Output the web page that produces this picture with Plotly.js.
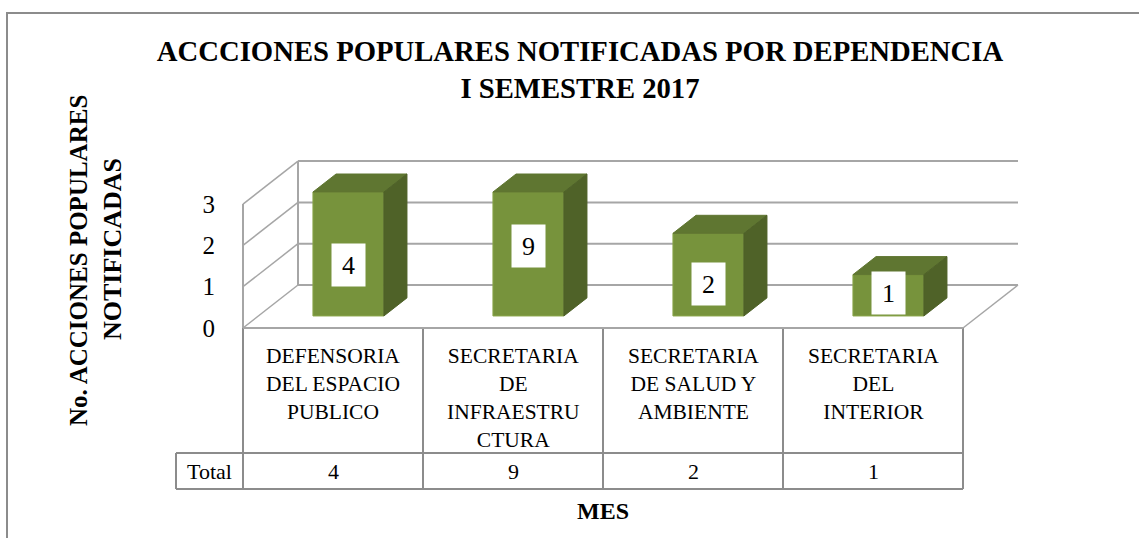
<!DOCTYPE html>
<html>
<head>
<meta charset="utf-8">
<script src="https://cdn.plot.ly/plotly-3.0.1.min.js"></script>
<style>
  html, body { margin: 0; padding: 0; background: #fff; }
  #graphDiv { width: 1139px; height: 538px; }
</style>
</head>
<body>
<div id="graphDiv"></div>
<script>
// data
var categories = ['DEFENSORIA<br>DEL ESPACIO<br>PUBLICO', 'SECRETARIA<br>DE<br>INFRAESTRU<br>CTURA',
                  'SECRETARIA<br>DE SALUD Y<br>AMBIENTE', 'SECRETARIA<br>DEL<br>INTERIOR'];
var totals = [4, 9, 2, 1];
var yTicks = [0, 1, 2, 3];
var rowName = 'Total';

// where the white value boxes sit on each bar (value units above bar base)
var labelAt = [1.23, 1.69, 0.77, 0.55];

var W = 1139, H = 538;
var CAT_PX = 180, X0_PX = 333;      // category spacing, centre of first category
var UNIT_PX = 41.3, Y0_PX = 328;    // one value unit, front floor line
var DX = 55 / CAT_PX, DY = 43 / UNIT_PX;   // depth shift of the 3d box
var yMax = yTicks[yTicks.length - 1];
var dF = 0.28, dB = 0.70, barW = 0.394;

var grid = '#a6a6a6', border = '#8c8c8c';
var serif = 'Liberation Serif';

function px2x(p) { return (p - X0_PX) / CAT_PX; }
function py2paper(p) { return 1 - p / H; }

function txt(size) { return { family: serif, size: size, color: '#000' }; }

function drawGraph() {
  var n = categories.length;
  var idx = categories.map(function (c, i) { return i; });
  var shown = totals.map(function (v) { return Math.min(v, yMax); });

  // front faces
  var front = {
    type: 'bar',
    x: idx.map(function (i) { return i + dF * DX; }),
    y: shown,
    base: dF * DY,
    width: barW,
    marker: { color: '#77933c', line: { color: '#8aa64a', width: 1 } },
    hoverinfo: 'skip'
  };

  // top and side faces
  var tx = [], ty = [], sx = [], sy = [];
  var ddx = (dB - dF) * DX, ddy = (dB - dF) * DY;
  for (var i = 0; i < n; i++) {
    var xl = i + dF * DX - barW / 2, xr = xl + barW;
    var yb = dF * DY, yt = yb + shown[i];
    tx.push(xl, xr, xr + ddx, xl + ddx, xl, null);
    ty.push(yt, yt, yt + ddy, yt + ddy, yt, null);
    sx.push(xr, xr, xr + ddx, xr + ddx, xr, null);
    sy.push(yb, yt, yt + ddy, yb + ddy, yb, null);
  }
  var top = { type: 'scatter', x: tx, y: ty, mode: 'lines', fill: 'toself',
    fillcolor: '#5f7631', line: { color: '#5f7631', width: 1 }, hoverinfo: 'skip' };
  var side = { type: 'scatter', x: sx, y: sy, mode: 'lines', fill: 'toself',
    fillcolor: '#4f6228', line: { color: '#4f6228', width: 1 }, hoverinfo: 'skip' };

  var shapes = [];
  function seg(x0, y0, x1, y1, col, wd, xr, yr) {
    shapes.push({ type: 'line', layer: 'below', xref: xr || 'x', yref: yr || 'y',
      x0: x0, y0: y0, x1: x1, y1: y1, line: { color: col, width: wd } });
  }
  var L = -0.5, R = n - 0.5;
  // back wall gridlines and left wall
  yTicks.forEach(function (k) {
    seg(L + DX, k + DY, R + DX, k + DY, grid, 2);
    seg(L, k, L + DX, k + DY, grid, 1.5);
  });
  seg(L, 0, L, yMax, grid, 2);
  seg(L + DX, DY, L + DX, yMax + DY, grid, 2);
  // floor
  seg(L, 0, R, 0, grid, 2);
  seg(R, 0, R + DX, DY, grid, 1.5);

  // data table under the floor
  var rowTop = py2paper(453), rowBot = py2paper(489), hdrTop = py2paper(Y0_PX);
  var totLeft = px2x(176);
  for (var j = 0; j <= n; j++) {
    seg(j - 0.5, hdrTop, j - 0.5, rowBot, border, 2, 'x', 'paper');
  }
  seg(totLeft, rowTop, R, rowTop, border, 2, 'x', 'paper');
  seg(totLeft, rowBot, R, rowBot, border, 2, 'x', 'paper');
  seg(totLeft, rowTop, totLeft, rowBot, border, 2, 'x', 'paper');

  // chart frame
  shapes.push({ type: 'rect', layer: 'below', xref: 'paper', yref: 'paper',
    x0: 7 / W, x1: 1.05, y0: -0.05, y1: py2paper(13), line: { color: border, width: 2 } });

  var ann = [];
  function note(o) {
    o.showarrow = false;
    o.xanchor = o.xanchor || 'center';
    o.yanchor = o.yanchor || 'middle';
    ann.push(o);
  }
  categories.forEach(function (c, i) {
    note({ x: i, y: py2paper(342), xref: 'x', yref: 'paper', yanchor: 'top',
      text: c, font: txt(21.5) });
    note({ x: i, y: py2paper(471), xref: 'x', yref: 'paper',
      text: String(totals[i]), font: txt(22) });
    note({ x: i + dF * DX, y: dF * DY + labelAt[i], xref: 'x', yref: 'y',
      text: String(totals[i]), bgcolor: '#fff', width: 31, height: 40, font: txt(26) });
  });
  note({ x: (px2x(176) + L) / 2, y: py2paper(471), xref: 'x', yref: 'paper',
    text: rowName, font: txt(22) });
  note({ x: (L + R) / 2, y: py2paper(511), xref: 'x', yref: 'paper',
    text: '<b>MES</b>', font: txt(24) });
  note({ x: 78 / W, y: py2paper(261), xref: 'paper', yref: 'paper', textangle: -90,
    text: '<b>No. ACCIONES POPULARES</b>', font: txt(25) });
  note({ x: 112 / W, y: py2paper(249), xref: 'paper', yref: 'paper', textangle: -90,
    text: '<b>NOTIFICADAS</b>', font: txt(26) });

  var layout = {
    width: W, height: H,
    margin: { l: 0, r: 0, t: 0, b: 0 },
    paper_bgcolor: '#fff', plot_bgcolor: 'rgba(0,0,0,0)',
    showlegend: false,
    title: {
      text: '<b>ACCCIONES POPULARES NOTIFICADAS POR DEPENDENCIA</b><br><b>I SEMESTRE 2017</b>',
      x: 580 / W, xanchor: 'center', y: 1 - 61 / H, yanchor: 'middle',
      font: txt(28.7)
    },
    xaxis: { range: [px2x(0), px2x(W)], visible: false, fixedrange: true },
    yaxis: {
      range: [(Y0_PX - H) / UNIT_PX, Y0_PX / UNIT_PX],
      anchor: 'free', position: 245 / W,
      tickvals: yTicks, ticks: '', showgrid: false, zeroline: false, showline: false,
      ticklabelstandoff: 30,
      tickfont: txt(25), fixedrange: true
    },
    shapes: shapes,
    annotations: ann
  };

  Plotly.newPlot('graphDiv', [front, top, side], layout, { displayModeBar: false, staticPlot: true });
}

document.addEventListener('DOMContentLoaded', drawGraph, false);
</script>
</body>
</html>
